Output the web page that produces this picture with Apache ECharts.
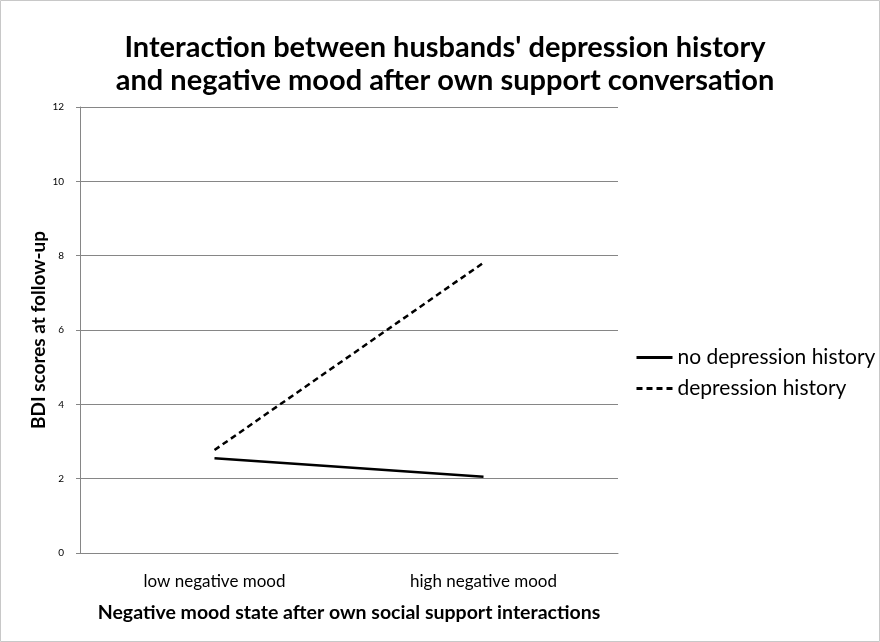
<!DOCTYPE html>
<html lang="en">
<head>
    <meta charset="UTF-8">
    <title>BDI interaction</title>
    <script src="https://cdn.jsdelivr.net/npm/echarts@6/dist/echarts.min.js"></script>
    <style>
        html, body { margin: 0; padding: 0; background: #fff; }
        #chart { width: 880px; height: 642px; }
    </style>
</head>
<body>
<div id="chart"></div>
<script>
    const categories = ['low negative mood', 'high negative mood'];
    const noHistory = [2.55, 2.05];
    const withHistory = [2.77, 7.81];
    const yTicks = [0, 2, 4, 6, 8, 10, 12];

    const font = 'Lato, "Open Sans", sans-serif';
    const chart = echarts.init(document.getElementById('chart'));

    chart.setOption({
        animation: false,
        textStyle: { fontFamily: font },
        title: {
            text: "Interaction between husbands' depression history\nand negative mood after own support conversation",
            left: 440,
            textAlign: 'center',
            top: 26,
            textStyle: { fontSize: 29, fontWeight: 'bold', color: '#000', lineHeight: 33, fontFamily: font }
        },
        graphic: [{
            type: 'rect',
            shape: { x: 0.5, y: 0.5, width: 879, height: 641 },
            style: { fill: 'none', stroke: '#c8c8c8', lineWidth: 1 },
            silent: true
        }],
        legend: {
            orient: 'vertical',
            left: 630,
            top: 342,
            itemWidth: 36,
            itemHeight: 14,
            itemGap: 10,
            itemStyle: { opacity: 0 },
            lineStyle: { width: 3 },
            textStyle: { fontSize: 21, color: '#000', fontFamily: font },
            data: ['no depression history', 'depression history']
        },
        grid: { left: 80, right: 262, top: 107, bottom: 89 },
        xAxis: {
            type: 'category',
            data: categories,
            boundaryGap: true,
            name: 'Negative mood state after own social support interactions',
            nameLocation: 'middle',
            nameGap: 50,
            nameTextStyle: { fontSize: 19.5, fontWeight: 'bold', color: '#000', fontFamily: font },
            axisLine: { lineStyle: { color: '#868686' } },
            axisTick: { show: false },
            axisLabel: { fontSize: 17, color: '#000', margin: 20, fontFamily: font }
        },
        yAxis: {
            type: 'value',
            min: yTicks[0],
            max: yTicks[yTicks.length - 1],
            interval: 2,
            name: 'BDI scores at follow-up',
            nameLocation: 'middle',
            nameGap: 32,
            nameMoveOverlap: false,
            nameTextStyle: { fontSize: 19, fontWeight: 'bold', color: '#000', fontFamily: font },
            axisLine: { show: true, lineStyle: { color: '#868686' } },
            axisTick: { show: true, length: 4, lineStyle: { color: '#868686' } },
            axisLabel: { fontSize: 10, color: '#000', margin: 16, fontFamily: font },
            splitLine: { lineStyle: { color: '#868686' } }
        },
        series: [
            {
                name: 'no depression history',
                type: 'line',
                data: noHistory,
                symbol: 'none',
                lineStyle: { color: '#000', width: 2.5 },
                itemStyle: { color: '#000' }
            },
            {
                name: 'depression history',
                type: 'line',
                data: withHistory,
                symbol: 'none',
                lineStyle: { color: '#000', width: 2.5, type: [6, 4] },
                itemStyle: { color: '#000' }
            }
        ]
    });
</script>
</body>
</html>
